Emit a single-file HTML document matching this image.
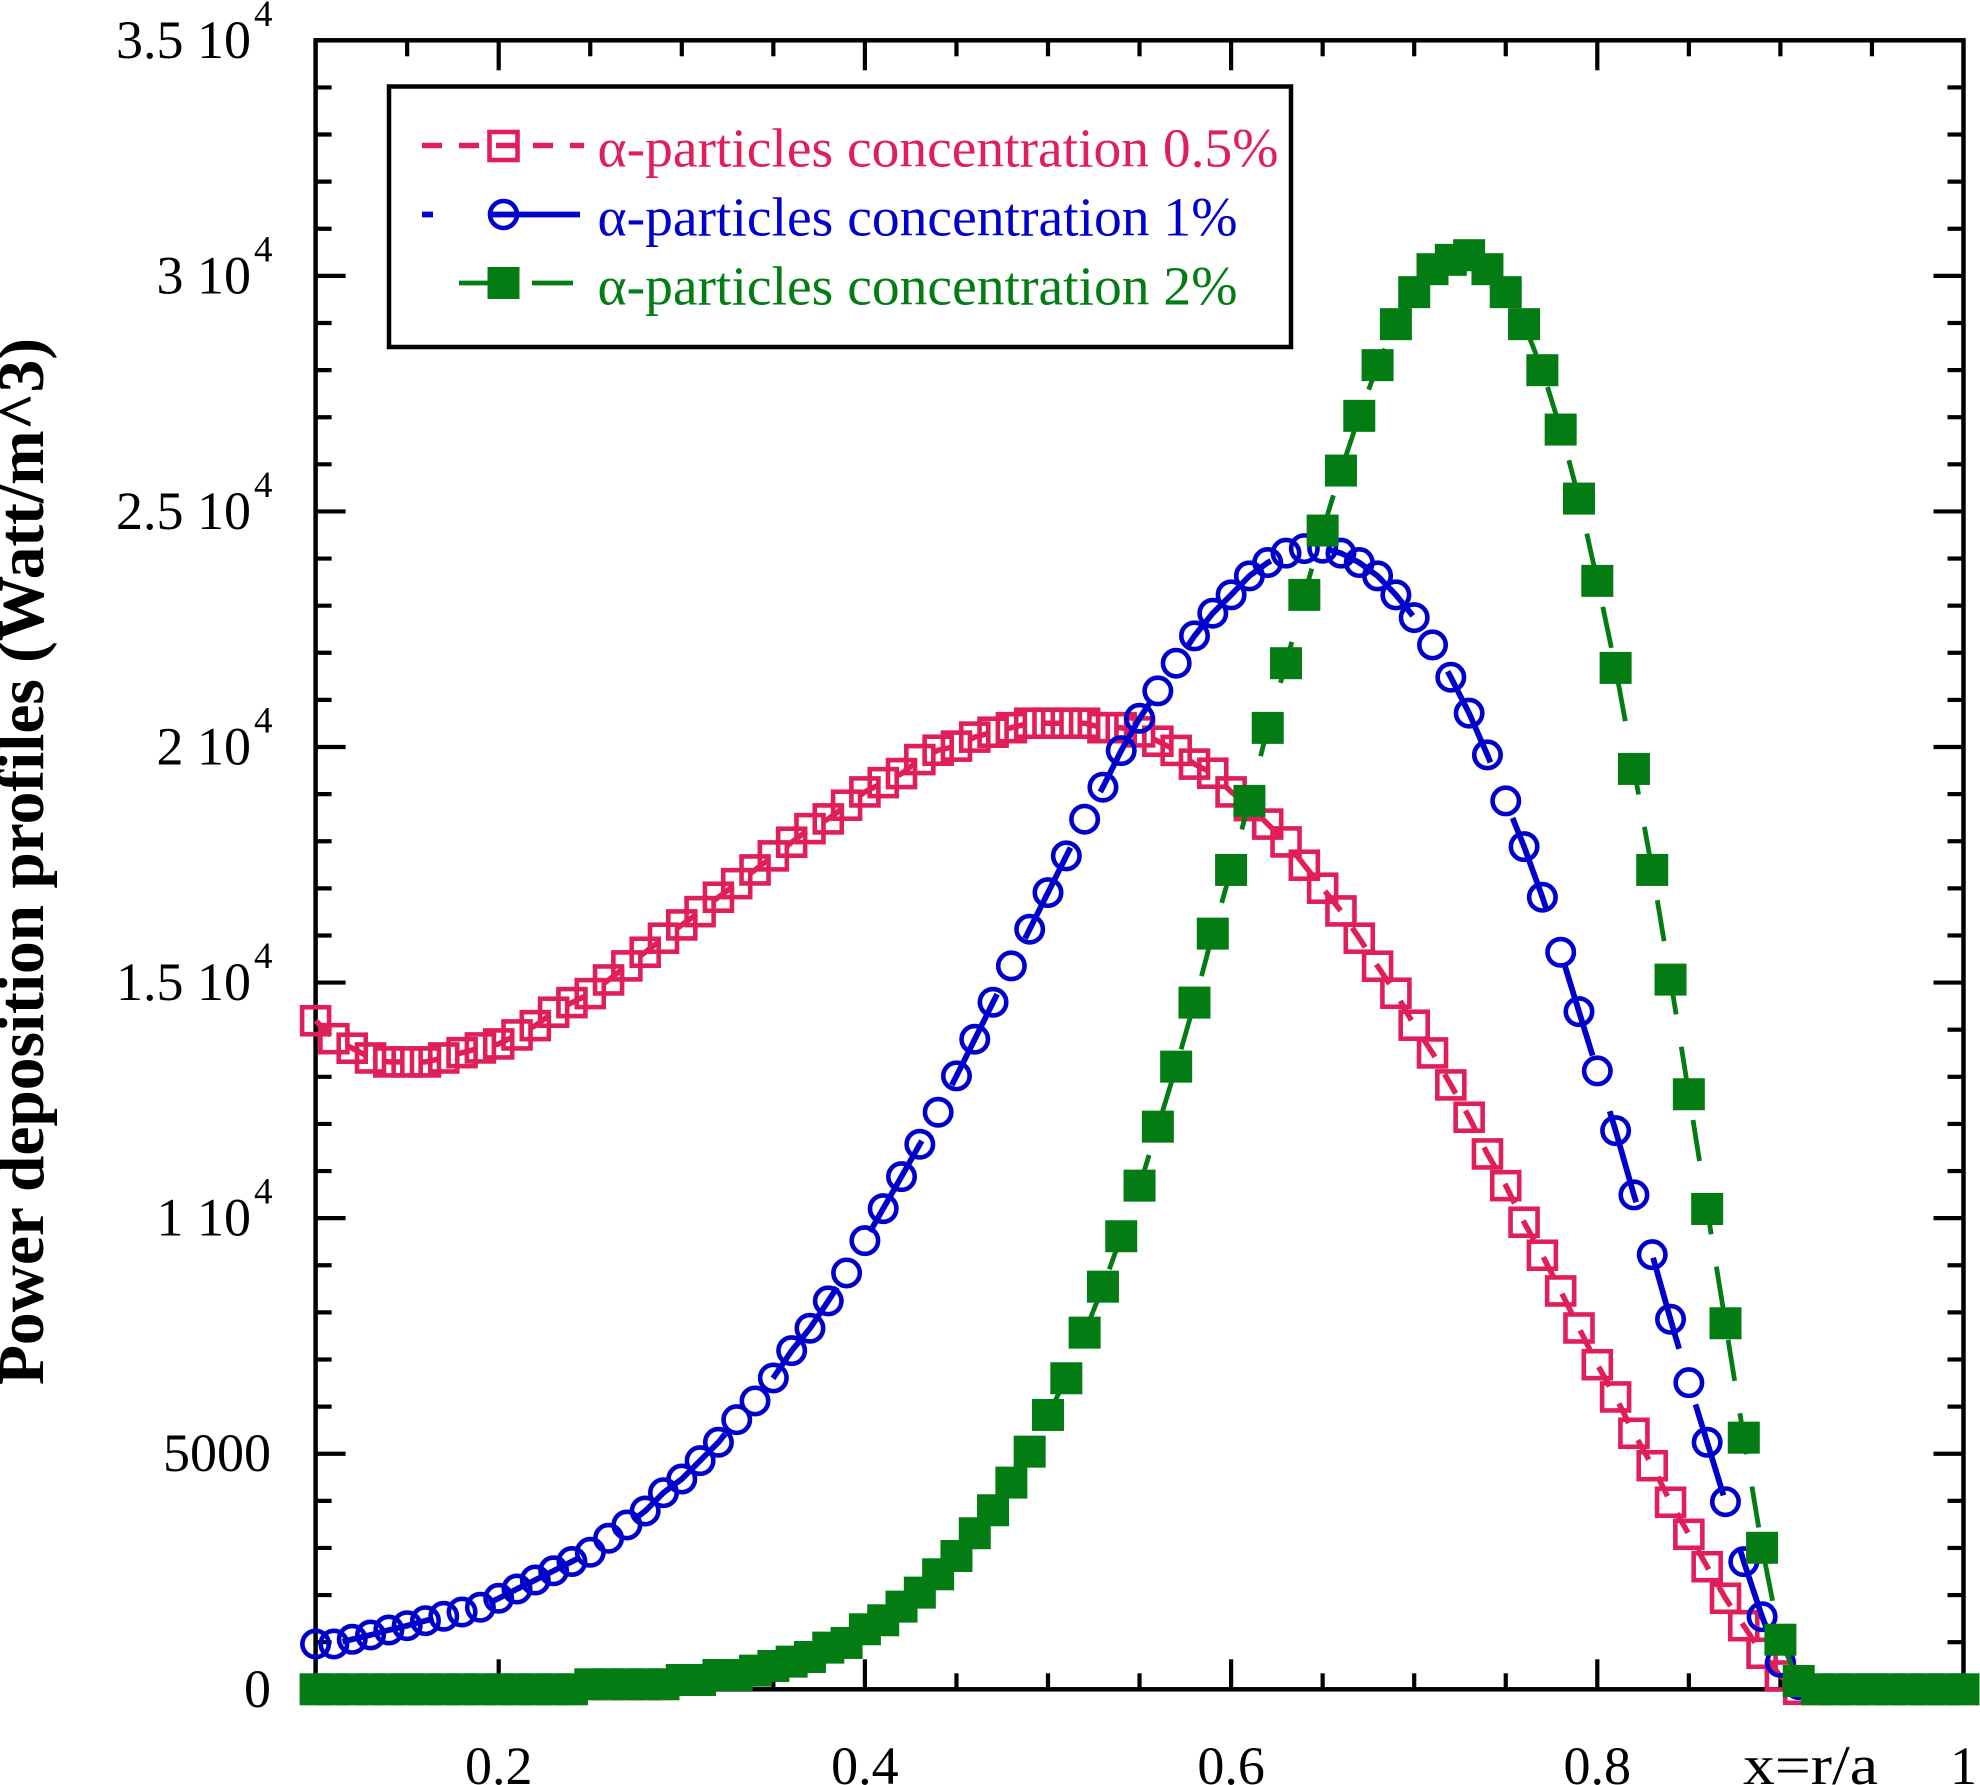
<!DOCTYPE html>
<html lang="en">
<head>
<meta charset="utf-8">
<title>Power deposition profiles</title>
<style>
html,body{margin:0;padding:0;background:#fff;}
svg{display:block;font-family:"Liberation Serif",serif;}
</style>
</head>
<body>
<svg id="chart" xmlns="http://www.w3.org/2000/svg" width="1980" height="1785" viewBox="0 0 1980 1785">
  <rect x="0" y="0" width="1980" height="1785" fill="#ffffff"/>
  <g id="axes"></g>
  <g id="series"></g>
  <text transform="translate(43,1385) rotate(-90)" font-size="65.5" font-weight="bold" fill="#000" textLength="1047" lengthAdjust="spacingAndGlyphs">Power deposition profiles (Watt/m^3)</text>
  <text x="1743" y="1784" font-size="56" textLength="135" lengthAdjust="spacingAndGlyphs" fill="#000">x=r/a</text>
  <g>
    <rect x="389" y="86.5" width="902" height="260.5" fill="none" stroke="#000" stroke-width="4.5"/>
    <g>
      <line x1="422" y1="145.5" x2="584" y2="145.5" stroke="#e01e5a" stroke-width="5.5" stroke-dasharray="20 17"/>
      <rect x="489.5" y="132" width="28" height="28" fill="none" stroke="#e01e5a" stroke-width="4.6"/>
      <text x="597.5" y="166.5" font-size="55" fill="#e01e5a" textLength="681" lengthAdjust="spacingAndGlyphs">α-particles concentration 0.5%</text>
    </g>
    <g>
      <line x1="422" y1="214.5" x2="580" y2="214.5" stroke="#0000cc" stroke-width="5.8" stroke-dasharray="95 58" stroke-dashoffset="84"/>
      <circle cx="503.5" cy="214.5" r="13.5" fill="none" stroke="#0000cc" stroke-width="4.6"/>
      <text x="597.5" y="235.5" font-size="55" fill="#0000cc" textLength="640" lengthAdjust="spacingAndGlyphs">α-particles concentration 1%</text>
    </g>
    <g>
      <line x1="459" y1="283" x2="575" y2="283" stroke="#047c14" stroke-width="4.8" stroke-dasharray="41 32"/>
      <rect x="487.5" y="267" width="32" height="32" fill="#047c14"/>
      <text x="597.5" y="304.5" font-size="55" fill="#047c14" textLength="640" lengthAdjust="spacingAndGlyphs">α-particles concentration 2%</text>
    </g>
  </g>
</svg>
<script>
const xValues = [
  0.10,0.11,0.12,0.13,0.14,0.15,0.16,0.17,0.18,0.19,
  0.20,0.21,0.22,0.23,0.24,0.25,0.26,0.27,0.28,0.29,
  0.30,0.31,0.32,0.33,0.34,0.35,0.36,0.37,0.38,0.39,
  0.40,0.41,0.42,0.43,0.44,0.45,0.46,0.47,0.48,0.49,
  0.50,0.51,0.52,0.53,0.54,0.55,0.56,0.57,0.58,0.59,
  0.60,0.61,0.62,0.63,0.64,0.65,0.66,0.67,0.68,0.69,
  0.70,0.71,0.72,0.73,0.74,0.75,0.76,0.77,0.78,0.79,
  0.80,0.81,0.82,0.83,0.84,0.85,0.86,0.87,0.88,0.89,
  0.90,0.91,0.92,0.93,0.94,0.95,0.96,0.97,0.98,0.99,1.00
];
const concentration05 = [
  14190,13810,13607,13400,13316,13316,13316,13400,13513,13613,
  13698,13889,14086,14371,14575,14766,15056,15354,15644,15942,
  16224,16506,16812,17100,17391,17689,17979,18268,18474,18765,
  19047,19244,19436,19733,19932,20019,20210,20314,20410,20505,
  20505,20505,20505,20410,20410,20321,20123,19928,19637,19444,
  19047,18756,18364,17986,17491,17003,16521,15942,15347,14774,
  14095,13507,12828,12142,11363,10690,9913,9213,8455,7669,
  6890,6205,5434,4746,3970,3290,2602,1932,1350,764,
  282,0,0,0,0,0,0,0,0,0,0
];
const concentration1 = [
  962,962,1061,1153,1259,1350,1456,1550,1641,1741,
  1932,2129,2320,2515,2713,2908,3205,3488,3785,4173,
  4464,4853,5243,5723,6120,6608,7188,7663,8243,8837,
  9523,10202,10881,11569,12248,13019,13798,14583,15354,16133,
  16910,17689,18468,19147,19924,20611,21191,21779,22359,22840,
  23229,23632,23915,24114,24212,24220,24114,23915,23632,23229,
  22747,22167,21482,20718,19832,18856,17886,16812,15644,14384,
  13125,11858,10493,9225,7854,6508,5243,3982,2709,1541,
  573,100,0,0,0,0,0,0,0,0,0
];
const concentration2 = [
  0,0,0,0,0,0,0,0,0,0,
  0,0,0,0,0,106,106,106,106,106,
  198,198,304,304,396,495,587,686,885,984,
  1274,1465,1755,2052,2441,2830,3312,3800,4387,5044,
  5823,6602,7570,8546,9616,10690,11942,13216,14575,16039,
  17391,18856,20406,21779,23229,24594,25868,27029,28105,28975,
  29654,30142,30340,30439,30142,29654,28975,27998,26738,25273,
  23526,21679,19535,17391,15063,12630,10195,7769,5341,3004,
  1053,176,0,0,0,0,0,0,0,0,0
];
const xMajorTicks = [0.2,0.4,0.6,0.8];
const xMinorTicks = [0.15,0.25,0.3,0.35,0.45,0.5,0.55,0.65,0.7,0.75,0.85,0.9,0.95];
const xTickLabels = ["0.2","0.4","0.6","0.8","1"];
const xLabelValues = [0.2,0.4,0.6,0.8,1];
const yMajorTicks = [5000,10000,15000,20000,25000,30000];
const yMinorTicks = [1000,2000,3000,4000,6000,7000,8000,9000,11000,12000,13000,14000,16000,17000,18000,19000,21000,22000,23000,24000,26000,27000,28000,29000,31000,32000,33000,34000];
const yLabelValues = [0,5000,10000,15000,20000,25000,30000,35000];
const yTickLabels = ["0","5000","1 10","1.5 10","2 10","2.5 10","3 10","3.5 10"];
const yTickExponents = ["","","4","4","4","4","4","4"];

const SVG_NS = "http://www.w3.org/2000/svg";
const xMin = 0.1, xLeft = 315.6, xRight = 1963.5, xSpan = 0.9;
const yBottom = 1689.3, yTop = 40.3, yMaxValue = 35000;
function xScale(v){ return xLeft + (v - xMin) * (xRight - xLeft) / xSpan; }
function yScale(v){ return yBottom - v * (yBottom - yTop) / yMaxValue; }
function make(tag, attrs, parent){
  const el = document.createElementNS(SVG_NS, tag);
  for (const k in attrs) el.setAttribute(k, attrs[k]);
  parent.appendChild(el);
  return el;
}
const axes = document.getElementById("axes");
const seriesGroup = document.getElementById("series");

function tickLine(x1, y1, x2, y2, width, name){
  const el = make("line", {x1:x1, y1:y1, x2:x2, y2:y2, stroke:"#000", "stroke-width":width}, axes);
  
  
}
const frame = make("rect", {x:xLeft, y:yTop, width:xRight-xLeft, height:yBottom-yTop, fill:"none", stroke:"#000", "stroke-width":4.5}, axes);



const MAJOR = 30, MINOR = 16;
xMajorTicks.forEach(function(v){
  const x = xScale(v);
  tickLine(x, yBottom, x, yBottom - MAJOR, 4.2, 'x-major-tick-bottom');
  tickLine(x, yTop, x, yTop + MAJOR, 4.2, 'x-major-tick-top');
});
xMinorTicks.forEach(function(v){
  const x = xScale(v);
  tickLine(x, yBottom, x, yBottom - MINOR, 4.2, 'x-minor-tick-bottom');
  tickLine(x, yTop, x, yTop + MINOR, 4.2, 'x-minor-tick-top');
});
yMajorTicks.forEach(function(v){
  const y = yScale(v);
  tickLine(xLeft, y, xLeft + MAJOR, y, 4.2, 'y-major-tick-left');
  tickLine(xRight, y, xRight - MAJOR, y, 4.2, 'y-major-tick-right');
});
yMinorTicks.forEach(function(v){
  const y = yScale(v);
  tickLine(xLeft, y, xLeft + MINOR, y, 4.2, 'y-minor-tick-left');
  tickLine(xRight, y, xRight - MINOR, y, 4.2, 'y-minor-tick-right');
});

xLabelValues.forEach(function(v, i){
  const t = make("text", {x:xScale(v), y:1784, "font-size":54, "text-anchor":"middle", fill:"#000"}, axes);
  t.textContent = xTickLabels[i];
  
  
});
yLabelValues.forEach(function(v, i){
  const y = yScale(v) + 17.5;
  const t = make("text", {x: yTickExponents[i] ? 251 : 271, y:y, "font-size":54, "text-anchor":"end", fill:"#000"}, axes);
  t.textContent = yTickLabels[i];
  
  
  if (yTickExponents[i]) {
    const s = make("text", {x:254, y:y - 32, "font-size":37, fill:"#000"}, axes);
    s.textContent = yTickExponents[i];
    
    
  }
});

/* The reference's dash pattern advances by the larger of |dx| and |dy| per
   segment (a raster-plotter style pattern), so dashes are walked that way
   along the line built from the data through the axis scales. */
function dashedPath(values, dashLength, period, phase){
  let d = "", s = 0, on = false;
  for (let i = 0; i + 1 < values.length; i++) {
    const x0 = xScale(xValues[i]), y0 = yScale(values[i]);
    const x1 = xScale(xValues[i + 1]), y1 = yScale(values[i + 1]);
    const len = Math.max(Math.abs(x1 - x0), Math.abs(y1 - y0));
    let t = 0;
    while (t < len) {
      const pos = (((s + t - phase) % period) + period) % period;
      const inDash = pos < dashLength;
      const next = inDash ? dashLength - pos : period - pos;
      const step = Math.max(Math.min(next, len - t), 1e-6);
      if (inDash) {
        if (!on) d += "M" + (x0 + (x1 - x0) * t / len).toFixed(1) + " " + (y0 + (y1 - y0) * t / len).toFixed(1);
        d += "L" + (x0 + (x1 - x0) * (t + step) / len).toFixed(1) + " " + (y0 + (y1 - y0) * (t + step) / len).toFixed(1);
        on = true;
      } else {
        on = false;
      }
      t += step;
    }
    s += len;
  }
  return d;
}
function drawLine(values, color, width, dashLength, period, phase, name){
  const p = make("path", {d:dashedPath(values, dashLength, period, phase), fill:"none", stroke:color, "stroke-width":width}, seriesGroup);
  
  
}
drawLine(concentration05, "#e01e5a", 5.5, 19.5, 36.6, 32, 'line-concentration-0-5-percent');
concentration05.forEach(function(v, i){
  const r = make("rect", {x:xScale(xValues[i]) - 13.5, y:yScale(v) - 13.5, width:27, height:27, fill:"none", stroke:"#e01e5a", "stroke-width":4.6}, seriesGroup);
  
  
});
drawLine(concentration1, "#0000cc", 5.8, 91, 146.6, 27, 'line-concentration-1-percent');
concentration1.forEach(function(v, i){
  const c = make("circle", {cx:xScale(xValues[i]), cy:yScale(v), r:13.2, fill:"none", stroke:"#0000cc", "stroke-width":4.6}, seriesGroup);
  
  
});
drawLine(concentration2, "#047c14", 4.8, 41, 73.3, 48, 'line-concentration-2-percent');
concentration2.forEach(function(v, i){
  const r = make("rect", {x:xScale(xValues[i]) - 16, y:yScale(v) - 16, width:32, height:32, fill:"#047c14"}, seriesGroup);
  
  
});
</script>
</body>
</html>
